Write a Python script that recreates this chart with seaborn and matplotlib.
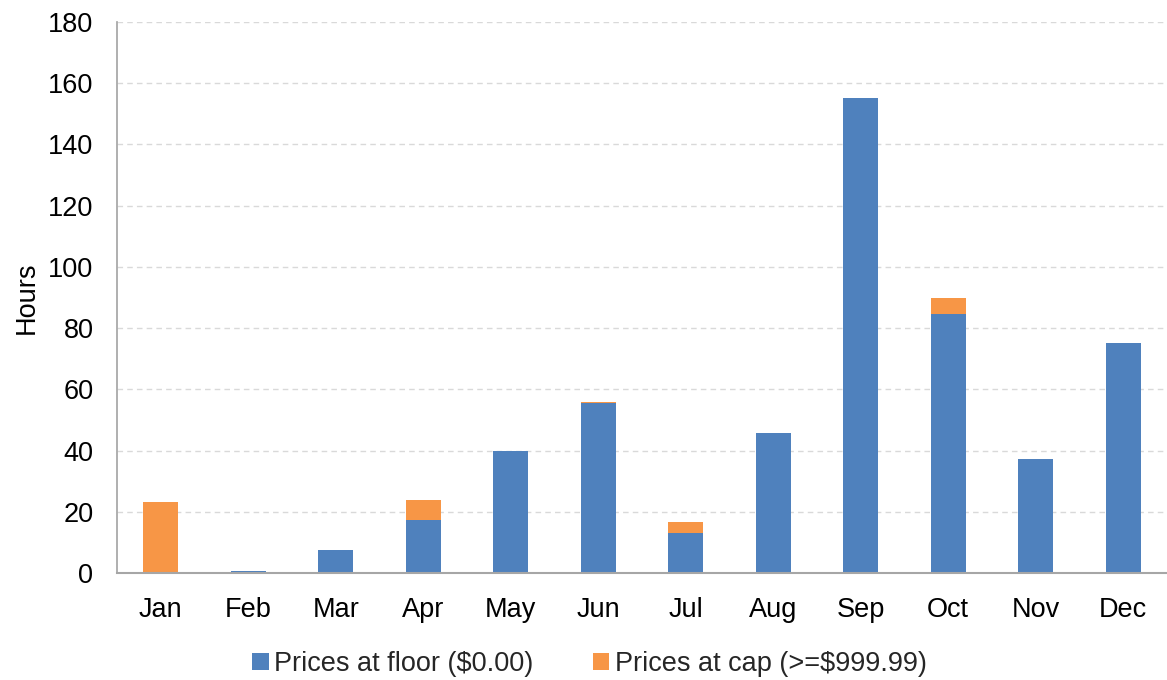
import matplotlib
matplotlib.use("Agg")
import matplotlib.pyplot as plt
import seaborn as sns
import pandas as pd

months = ["Jan", "Feb", "Mar", "Apr", "May", "Jun", "Jul", "Aug", "Sep", "Oct", "Nov", "Dec"]
floor_hours = [0, 0.8, 7.5, 17.3, 40, 55.5, 13.0, 45.7, 155.3, 84.5, 37.2, 75.2]
cap_hours = [23.3, 0, 0, 6.6, 0, 0.5, 3.8, 0, 0, 5.2, 0, 0]

sns.set_theme(style="white")
plt.rcParams["font.family"] = ["Liberation Sans", "DejaVu Sans"]

df = pd.DataFrame({"month": months, "floor": floor_hours, "cap": cap_hours})
df["total"] = df["floor"] + df["cap"]

fig = plt.figure(figsize=(11.67, 6.8), dpi=100)
ax = fig.add_axes([117/1167, 1 - 573/680, (1167 - 117)/1167, (573 - 22)/680])

blue = "#4F81BD"
orange = "#F79646"

sns.barplot(data=df, x="month", y="total", color=orange, width=0.4, ax=ax,
            saturation=1, linewidth=0, label="Prices at cap (>=$999.99)")
sns.barplot(data=df, x="month", y="floor", color=blue, width=0.4, ax=ax,
            saturation=1, linewidth=0, label="Prices at floor ($0.00)")

ax.set_ylim(0, 180)
ax.set_yticks(range(0, 181, 20))
ax.set_xlim(-0.5, 11.5)
ax.yaxis.grid(True, linestyle=(0, (4, 3)), color="#D9D9D9", linewidth=1)
ax.set_axisbelow(True)
for s in ["top", "right"]:
    ax.spines[s].set_visible(False)
ax.spines["left"].set_color("#A6A6A6")
ax.spines["bottom"].set_color("#A6A6A6")
ax.spines["bottom"].set_linewidth(1.5)
ax.tick_params(axis="both", labelsize=19.5, colors="black", length=0)
ax.tick_params(axis="y", pad=17)
ax.tick_params(axis="x", pad=17)
ax.set_xlabel("")
ax.set_ylabel("Hours", fontsize=19.5, labelpad=6, color="black")

handles, labels = ax.get_legend_handles_labels()
order = [labels.index("Prices at floor ($0.00)"), labels.index("Prices at cap (>=$999.99)")]
ax.legend([handles[i] for i in order], [labels[i] for i in order],
          loc="center", bbox_to_anchor=(0.5 - 0.05, -0.165), ncol=2, frameon=False,
          fontsize=19.5, handlelength=0.6, handleheight=0.6, handletextpad=0.2, columnspacing=2.2)

fig.savefig("out.png", dpi=100)
